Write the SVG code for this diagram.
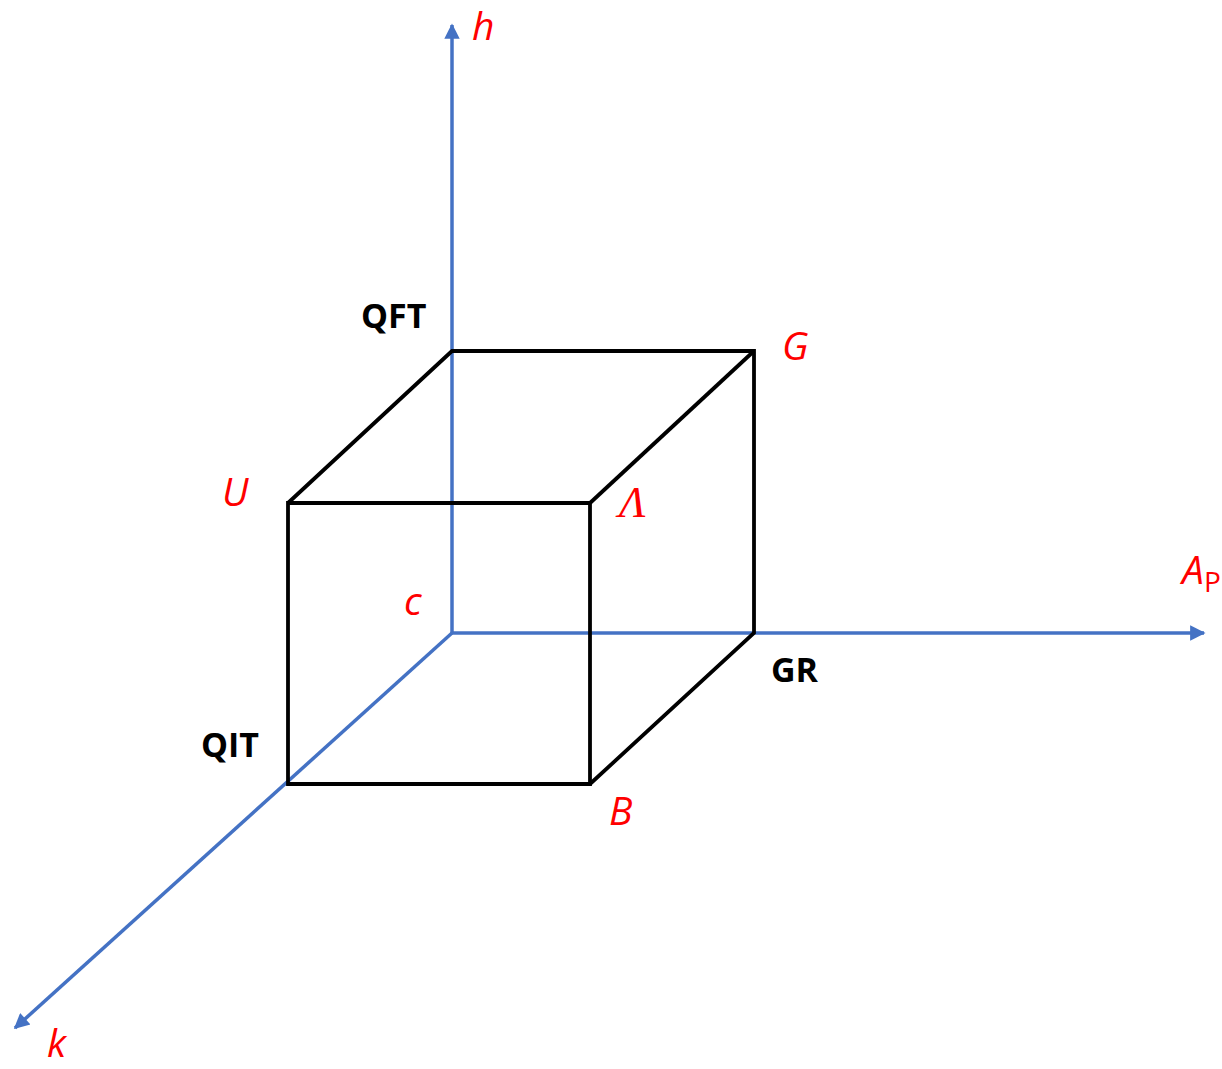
<svg xmlns="http://www.w3.org/2000/svg" width="1222" height="1069" viewBox="0 0 1222 1069">
<style>
.ax{stroke:#4472C4;stroke-width:3.5;fill:none}
.cb{stroke:#000;stroke-width:3.8;fill:none;stroke-linejoin:miter}
.lr{font-family:"Open Sans","Liberation Sans",sans-serif;font-style:italic;fill:#FF0000;font-size:39px}
.lb{font-family:"Open Sans","Liberation Sans",sans-serif;font-weight:bold;fill:#000;font-size:34px}
</style>
<defs>
<marker id="ah" viewBox="0 0 10 10" refX="9" refY="5" markerWidth="5" markerHeight="4.4" markerUnits="strokeWidth" orient="auto">
<path d="M0,0 L10,5 L0,10 z" fill="#4472C4"/>
</marker>
</defs>
<rect width="1222" height="1069" fill="#fff"/>
<g id="connectors">
<line class="ax" x1="452" y1="633" x2="452" y2="25" marker-end="url(#ah)"/>
<line class="ax" x1="452" y1="633" x2="1204" y2="633" marker-end="url(#ah)"/>
<line class="ax" x1="452" y1="633" x2="15" y2="1028" marker-end="url(#ah)"/>
</g>
<g id="cube">
<path class="cb" d="M288,784 L288,503 L590,503 L590,784 Z"/>
<path class="cb" d="M288,503 L452,351 L754,351 L754,633 L590,784"/>
<path class="cb" d="M590,503 L754,351"/>
</g>
<g id="labels">
<text class="lr" x="472" y="40">h</text>
<text class="lr" x="782" y="360">G</text>
<text class="lr" x="222" y="506">U</text>
<text x="619" y="517" style="font-family:'Liberation Serif',serif;font-style:italic;fill:#FF0000;font-size:44px">Λ</text>
<text class="lr" x="404" y="615">c</text>
<text class="lr" x="1182" y="584">A<tspan font-style="normal" font-size="28" dy="8">P</tspan></text>
<text class="lr" x="609" y="825">B</text>
<text class="lr" x="47" y="1057">k</text>
<text class="lb" x="361" y="328">QFT</text>
<text class="lb" x="771" y="682">GR</text>
<text class="lb" x="201" y="757">QIT</text>
</g>
</svg>
